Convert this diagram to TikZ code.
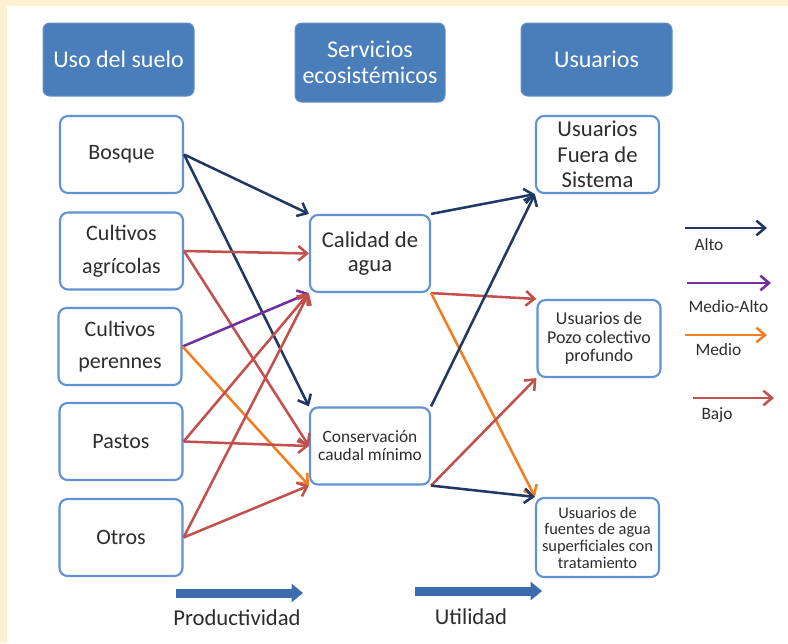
\documentclass[tikz,border=0pt]{standalone}
\usepackage{fontspec}
\setmainfont{Carlito}
\usetikzlibrary{arrows.meta}
\tikzset{every picture/.style={line width=0.75pt}}
\definecolor{cream}{RGB}{255,240,210}
\definecolor{hdblue}{RGB}{74,126,187}
\definecolor{boxline}{RGB}{98,146,212}
\definecolor{txtgray}{RGB}{45,45,45}
\definecolor{cAlto}{RGB}{32,56,100}
\definecolor{cMedioAlto}{RGB}{112,48,160}
\definecolor{cMedio}{RGB}{243,125,35}
\definecolor{cBajo}{RGB}{194,80,77}
\definecolor{fatblue}{RGB}{60,108,172}

\begin{document}
\begin{tikzpicture}[x=0.75pt,y=-0.75pt,
    hdr/.style={rectangle,rounded corners=5pt,fill=hdblue,draw=hdblue!85!white,text=white,align=center,
        minimum width=113.25pt,minimum height=54.75pt,inner sep=2pt,font=\fontsize{18}{19.5}\selectfont},
    box/.style={rectangle,rounded corners=6pt,draw=boxline,line width=1.6pt,fill=white,text=txtgray,
        align=center,minimum width=92.25pt,minimum height=57.75pt,inner sep=2pt},
    uso/.style={box,font=\fontsize{16.5}{24.5}\selectfont},
    tip/.style={-{Straight Barb[length=6.5pt,width=11pt]},line width=1.9pt},
    alto/.style={tip,draw=cAlto},
    medioalto/.style={tip,draw=cMedioAlto},
    medio/.style={tip,draw=cMedio},
    bajo/.style={tip,draw=cBajo},
    fat/.style={draw=fatblue,line width=6.75pt,-{Triangle[length=8.5pt,width=14pt,line width=0pt]}},
    lbl/.style={anchor=west,inner sep=0pt,text=txtgray,font=\fontsize{13}{14}\selectfont}]

    \useasboundingbox (0,0) rectangle (788,643);
    \fill[cream] (0,0) rectangle (788,643);
    \fill[white] (7,6) rectangle (788,643);

    % column headers
    \node[hdr] (hdUso) at (118.5,59.5) {Uso del suelo};
    \node[hdr,minimum width=112.5pt,minimum height=59.25pt] (hdServ) at (370,62.5) {Servicios\\ecosistémicos};
    \node[hdr] (hdUsr) at (596.5,59.5) {Usuarios};

    % uso del suelo
    \node[uso] (bos) at (121.5,154.5) {Bosque};
    \node[uso] (agr) at (121.5,251) {Cultivos\\agrícolas};
    \node[uso] (per) at (120,346.5) {Cultivos\\perennes};
    \node[uso] (pas) at (121,441.5) {Pastos};
    \node[uso] (otr) at (121,537.5) {Otros};

    % servicios
    \node[box,minimum width=90pt,font=\fontsize{17}{18}\selectfont] (cal) at (370,253.5) {Calidad de\\agua};
    \node[box,minimum width=90pt,font=\fontsize{13}{13.5}\selectfont] (con) at (370,446) {Conservación\\caudal mínimo};

    % usuarios
    \node[box,font=\fontsize{17}{19}\selectfont] (fue) at (597.5,154.5) {Usuarios\\Fuera de\\Sistema};
    \node[box,font=\fontsize{13.5}{14}\selectfont] (poz) at (599,338.5) {Usuarios de\\Pozo colectivo\\profundo};
    \node[box,minimum height=59.25pt,font=\fontsize{12.3}{12.5}\selectfont] (fnt) at (597.5,537.5)
        {Usuarios de\\fuentes de agua\\superficiales con\\tratamiento};

    \draw
        (bos.east) edge[alto] (cal.north west)
        (bos.east) edge[alto] (con.north west)
        (agr.east) edge[bajo] (cal.west)
        (agr.east) edge[bajo] (con.west)
        (per.east) edge[medioalto] (cal.south west)
        (per.east) edge[medio] (con.south west)
        (pas.east) edge[bajo] (cal.south west)
        (pas.east) edge[bajo] (con.west)
        (otr.east) edge[bajo] (cal.south west)
        (otr.east) edge[bajo] (con.south west)
        (cal.north east) edge[alto] (fue.south west)
        (cal.south east) edge[bajo] (poz.north west)
        (cal.south east) edge[medio] (fnt.north west)
        (con.north east) edge[alto] (fue.south west)
        (con.south east) edge[bajo] (poz.south west)
        (con.south east) edge[alto] (fnt.north west)
        ;

    % leyenda
    \coordinate (lgA1) at (685,228);  \coordinate (lgA2) at (767,228);
    \coordinate (lgB1) at (687,283);  \coordinate (lgB2) at (771,283);
    \coordinate (lgC1) at (685,335);  \coordinate (lgC2) at (767,335);
    \coordinate (lgD1) at (693,398);  \coordinate (lgD2) at (774,398);
    \draw[alto] (lgA1) -- (lgA2);
    \draw[medioalto] (lgB1) -- (lgB2);
    \draw[medio] (lgC1) -- (lgC2);
    \draw[bajo] (lgD1) -- (lgD2);
    \node[lbl] (lbA) at (694,245) {Alto};
    \node[lbl] (lbB) at (688,307) {Medio-Alto};
    \node[lbl] (lbC) at (695,350) {Medio};
    \node[lbl] (lbD) at (701,415) {Bajo};

    % flechas inferiores
    \coordinate (pr1) at (176,593); \coordinate (pr2) at (303,593);
    \coordinate (ut1) at (415,591); \coordinate (ut2) at (542,591);
    \draw[fat] (pr1) -- (pr2);
    \draw[fat] (ut1) -- (ut2);
    \node[text=txtgray,font=\fontsize{17}{18}\selectfont] (prod) at (237,618) {Productividad};
    \node[text=txtgray,font=\fontsize{17}{18}\selectfont] (util) at (471,617) {Utilidad};
\end{tikzpicture}
\end{document}
